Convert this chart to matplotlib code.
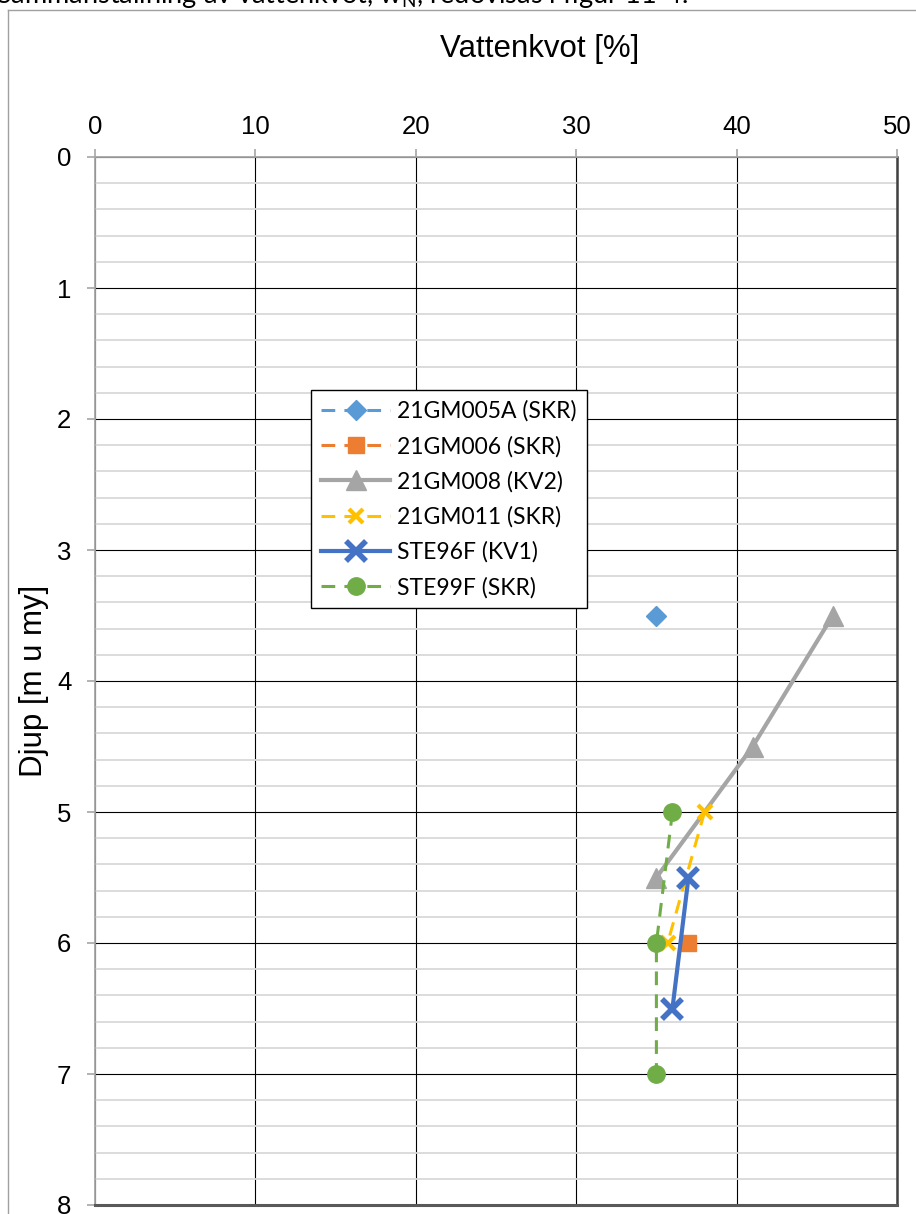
import matplotlib.pyplot as plt
from matplotlib.lines import Line2D
from matplotlib.ticker import MultipleLocator

# vattenkvot [%] och djup [m u my] per provpunkt
names = ["21GM005A (SKR)", "21GM006 (SKR)", "21GM008 (KV2)",
         "21GM011 (SKR)", "STE96F (KV1)", "STE99F (SKR)"]
w_005a = [35]
d_005a = [3.5]
w_006 = [37]
d_006 = [6.0]
w_008 = [46, 41, 35]
d_008 = [3.5, 4.5, 5.5]
w_011 = [38, 35.7]
d_011 = [5.0, 6.0]
w_96f = [37, 36]
d_96f = [5.5, 6.5]
w_99f = [36, 35, 35]
d_99f = [5.0, 6.0, 7.0]

x_ticks = [0, 10, 20, 30, 40, 50]
y_ticks = [0, 1, 2, 3, 4, 5, 6, 7, 8]

W, H = 916, 1214
fig = plt.figure(figsize=(W / 100, H / 100), dpi=100)
ax = fig.add_axes([95 / W, 1 - 1205 / H, (897 - 95) / W, (1205 - 157) / H])

dash = (4.5, 3)
ax.plot(w_005a, d_005a, color="#5B9BD5", lw=2.2, ls="--", dashes=dash,
        marker="D", ms=10.5, label=names[0], zorder=5)
ax.plot(w_006, d_006, color="#ED7D31", lw=2.2, ls="--", dashes=dash,
        marker="s", ms=11, label=names[1], zorder=5)
ax.plot(w_008, d_008, color="#A5A5A5", lw=3.0, ls="-",
        marker="^", ms=15, label=names[2], zorder=4)
ax.plot(w_011, d_011, color="#FFC000", lw=2.2, ls="--", dashes=dash,
        marker="x", ms=10, mew=3, label=names[3], zorder=5)
ax.plot(w_96f, d_96f, color="#4472C4", lw=3.0, ls="-",
        marker="x", ms=14, mew=4, label=names[4], zorder=6)
ax.plot(w_99f, d_99f, color="#70AD47", lw=2.2, ls="--", dashes=dash,
        marker="o", ms=12.5, label=names[5], zorder=5)

ax.set_xlim(0, 50)
ax.set_ylim(8, 0)
ax.set_xticks(x_ticks)
ax.set_yticks(y_ticks)
ax.yaxis.set_minor_locator(MultipleLocator(0.2))
ax.xaxis.tick_top()
ax.tick_params(axis="both", which="major", direction="out", length=6,
               width=1.2, color="#A6A6A6", labelsize=18.5)
ax.tick_params(axis="y", which="major", pad=11)
ax.tick_params(axis="x", which="major", pad=7)
ax.tick_params(axis="y", which="minor", length=0)
for lab in ax.get_xticklabels() + ax.get_yticklabels():
    lab.set_family("Liberation Sans")

ax.grid(True, which="minor", axis="y", color="#D9D9D9", lw=1.3, zorder=0)
ax.grid(True, which="major", axis="both", color="black", lw=0.8, zorder=1)
ax.set_axisbelow(True)

ax.spines["top"].set_color("#A6A6A6")
ax.spines["top"].set_linewidth(1.3)
ax.spines["left"].set_color("#A6A6A6")
ax.spines["left"].set_linewidth(1.3)
ax.spines["bottom"].set_color("#595959")
ax.spines["bottom"].set_linewidth(2.2)
ax.spines["right"].set_color("#404040")
ax.spines["right"].set_linewidth(1.8)

fig.text(540 / W, 1 - 49 / H, "Vattenkvot [%]", family="Liberation Sans",
         fontsize=22.5, ha="center", va="center")
fig.text(34 / W, 1 - 681 / H, "Djup [m u my]", family="Liberation Sans",
         fontsize=22.5, ha="center", va="center", rotation=90)

leg = ax.legend(loc="upper left", bbox_to_anchor=(311 / W, 1 - 390 / H),
                bbox_transform=fig.transFigure, frameon=True, fancybox=False,
                edgecolor="black", framealpha=1, borderaxespad=0,
                prop={"family": "Lato", "size": 16.5}, handlelength=3.0,
                handletextpad=0.3, labelspacing=0.6, borderpad=0.45)
leg.get_frame().set_linewidth(1.0)

# yttre ram och avklippt rubrik ovanför
fig.add_artist(Line2D([8 / W, 8 / W], [0, 1 - 10 / H], color="#A0A0A0", lw=1.0))
fig.add_artist(Line2D([8 / W, 1], [1 - 10 / H, 1 - 10 / H], color="#A0A0A0", lw=1.0))
fig.text(-4 / W, 1 - 3 / H,
         r"Sammanställning av vattenkvot, w$_\mathregular{N}$, redovisas i figur 11-4.",
         family="Lato", fontsize=19.5, ha="left", va="baseline")

fig.savefig("out.png", dpi=100)
